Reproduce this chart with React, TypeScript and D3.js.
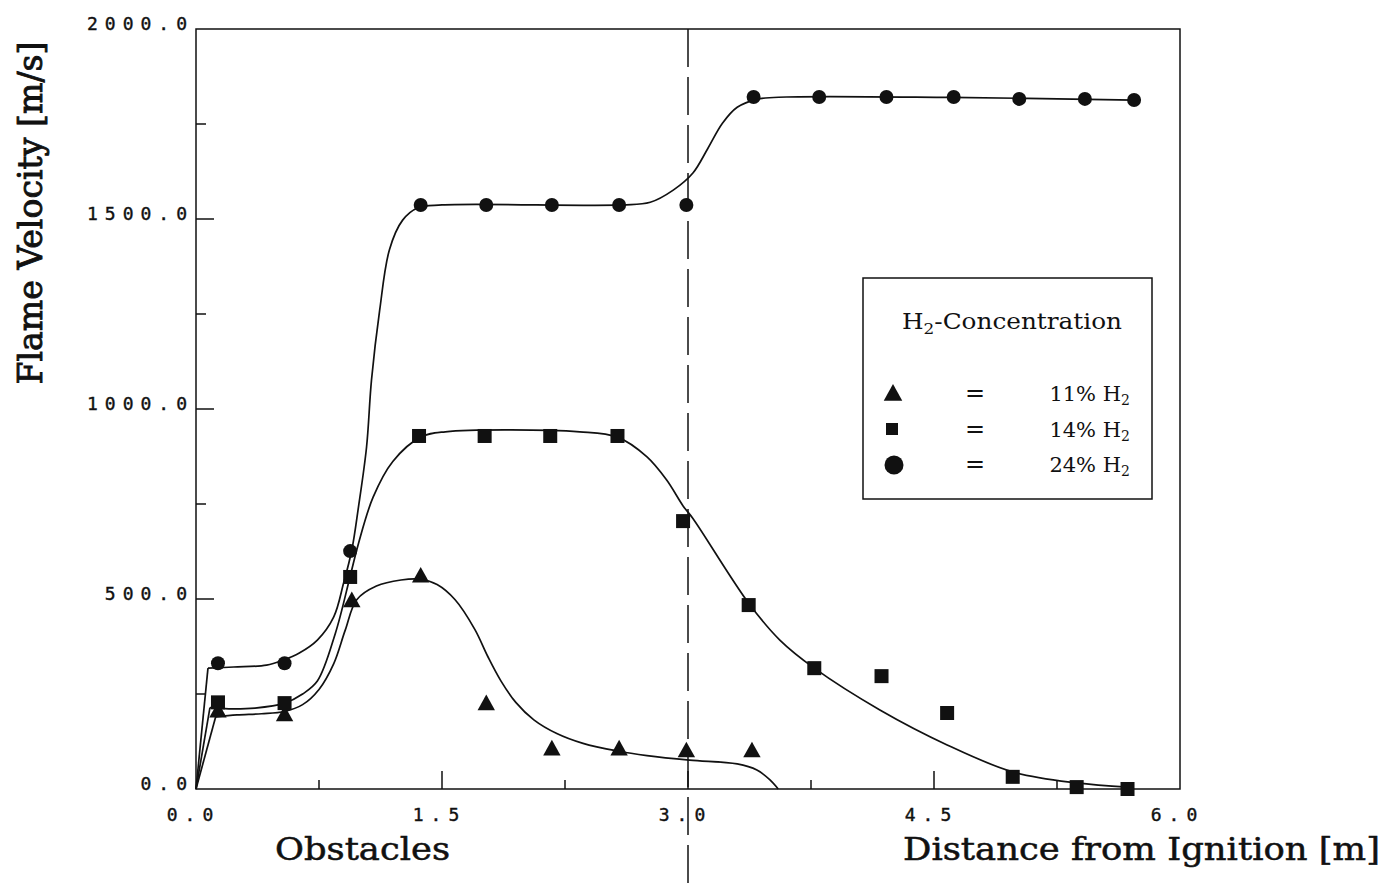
import React from "react";
import * as d3 from "d3";

// ---- data ----
const xTickMajor = [0, 1.5, 3.0, 4.5, 6.0];
const xTickMinor = [0.75, 2.25, 3.75, 5.25];
const yTickMajor = [0, 500, 1000, 1500, 2000];
const yTickMinor = [250, 750, 1250, 1750];
const xTickLabels = ["0.0", "1.5", "3.0", "4.5", "6.0"];
const yTickLabels = ["0.0", "500.0", "1000.0", "1500.0", "2000.0"];

// measured points (markers)
const tri11X = [0.134, 0.54, 0.95, 1.37, 1.77, 2.17, 2.58, 2.99, 3.39];
const tri11Y = [205, 195, 495, 560, 224, 105, 105, 100, 100];

const sq14X = [0.134, 0.54, 0.94, 1.36, 1.76, 2.16, 2.57, 2.97, 3.37, 3.77, 4.18, 4.58, 4.98, 5.37, 5.68];
const sq14Y = [228, 226, 558, 929, 929, 929, 929, 705, 484, 318, 297, 200, 32, 5, 0];

const circ24X = [0.134, 0.54, 0.94, 1.37, 1.77, 2.17, 2.58, 2.99, 3.40, 3.80, 4.21, 4.62, 5.02, 5.42, 5.72];
const circ24Y = [331, 331, 626, 1537, 1537, 1537, 1537, 1537, 1821, 1821, 1821, 1821, 1816, 1816, 1813];

// fitted curves; first segment from the origin is straight
const curve24: [number, number][] = [
  [0, 0], [0.073, 318], [0.23, 321], [0.43, 326], [0.53, 339], [0.63, 358], [0.74, 392],
  [0.84, 453], [0.9, 542], [0.95, 629], [0.99, 740], [1.04, 900], [1.07, 1076], [1.12, 1260],
  [1.18, 1420], [1.26, 1497], [1.35, 1529], [1.5, 1537], [2.6, 1537], [2.77, 1544],
  [2.91, 1576], [3.03, 1621], [3.12, 1685], [3.21, 1752], [3.3, 1794], [3.42, 1815],
  [3.6, 1821], [4.6, 1820], [5.72, 1813],
];
const curve14: [number, number][] = [
  [0, 0], [0.085, 214], [0.2, 211], [0.36, 213], [0.54, 226], [0.65, 250], [0.74, 284],
  [0.85, 410], [0.94, 560], [0.99, 645], [1.08, 768], [1.2, 862], [1.37, 926], [1.52, 940],
  [2.34, 940], [2.57, 926], [2.75, 874], [2.87, 813], [2.97, 745], [3.03, 712], [3.37, 489],
  [3.56, 392], [3.77, 318], [4.17, 208], [4.58, 116], [4.98, 45], [5.37, 16], [5.68, 5],
];
const curve11: [number, number][] = [
  [0, 0], [0.12, 190], [0.25, 195], [0.4, 198], [0.54, 204], [0.65, 222], [0.75, 262],
  [0.84, 330], [0.91, 418], [0.98, 498], [1.1, 534], [1.25, 550], [1.37, 552], [1.47, 538],
  [1.58, 498], [1.7, 420], [1.78, 348], [1.86, 284], [1.95, 228], [2.06, 182], [2.2, 146],
  [2.36, 120], [2.57, 100], [2.75, 88], [3.01, 76], [3.3, 66], [3.42, 50], [3.5, 24], [3.55, 0],
];

const legendLabels = ["11%", "14%", "24%"];
const dashedX = 3.0;

export default function App() {
  const W = 1390, H = 886;
  const x = d3.scaleLinear().domain([0, 6]).range([196, 1180]);
  const y = d3.scaleLinear().domain([0, 2000]).range([789, 29]);
  const smooth = d3
    .line<[number, number]>()
    .x((d) => x(d[0]))
    .y((d) => y(d[1]))
    .curve(d3.curveCatmullRom.alpha(0.5));
  const straight = d3
    .line<[number, number]>()
    .x((d) => x(d[0]))
    .y((d) => y(d[1]));

  const monoFont = "'DejaVu Sans Mono', monospace";
  const serif = "'DejaVu Serif', serif";
  const ls = 7;

  const tri = (cx: number, cy: number, s: number) =>
    `M${cx},${cy - s * 0.62} L${cx + s * 0.58},${cy + s * 0.42} L${cx - s * 0.58},${cy + s * 0.42} Z`;

  return (
    <svg
      width={W}
      height={H}
      style={{ position: "absolute", left: 0, top: 0, background: "#fff" }}
    >
      <rect x={0} y={0} width={W} height={H} fill="#fff" />
      {/* frame */}
      <rect
        x={x(0)}
        y={y(2000)}
        width={x(6) - x(0)}
        height={y(0) - y(2000)}
        fill="none"
        stroke="#111"
        strokeWidth={1.5}
      />
      {/* ticks */}
      {xTickMajor.slice(1, -1).map((t) => (
        <line key={"xm" + t} x1={x(t)} x2={x(t)} y1={y(0)} y2={y(0) - 18} stroke="#111" strokeWidth={1.5} />
      ))}
      {xTickMinor.map((t) => (
        <line key={"xn" + t} x1={x(t)} x2={x(t)} y1={y(0)} y2={y(0) - 9} stroke="#111" strokeWidth={1.5} />
      ))}
      {yTickMajor.slice(1, -1).map((t) => (
        <line key={"ym" + t} x1={x(0)} x2={x(0) + 18} y1={y(t)} y2={y(t)} stroke="#111" strokeWidth={1.5} />
      ))}
      {yTickMinor.map((t) => (
        <line key={"yn" + t} x1={x(0)} x2={x(0) + 10} y1={y(t)} y2={y(t)} stroke="#111" strokeWidth={1.5} />
      ))}
      {/* tick labels */}
      {yTickMajor.map((t, i) => (
        <text
          key={"yl" + t}
          x={x(0) - 9 + ls}
          y={y(t) + 1}
          textAnchor="end"
          fontFamily={monoFont}
          fontSize={18}
          letterSpacing={ls}
          stroke="#111"
          strokeWidth={0.4}
          fill="#111"
        >
          {yTickLabels[i]}
        </text>
      ))}
      {xTickMajor.map((t, i) => (
        <text
          key={"xl" + t}
          x={x(t) - 6 + ls / 2}
          y={821}
          textAnchor="middle"
          fontFamily={monoFont}
          fontSize={18}
          letterSpacing={ls}
          stroke="#111"
          strokeWidth={0.4}
          fill="#111"
        >
          {xTickLabels[i]}
        </text>
      ))}
      {/* dashed vertical line */}
      <line
        x1={x(dashedX)}
        x2={x(dashedX)}
        y1={y(2000)}
        y2={H}
        stroke="#111"
        strokeWidth={1.5}
        strokeDasharray="38 10"
      />
      {/* curves: straight rise from origin, then smooth fit */}
      {[curve11, curve14, curve24].map((c, i) => (
        <g key={"c" + i}>
          <path d={straight(c.slice(0, 2)) || ""} fill="none" stroke="#111" strokeWidth={1.7} />
          <path d={smooth(c.slice(1)) || ""} fill="none" stroke="#111" strokeWidth={1.7} />
        </g>
      ))}
      {/* markers */}
      {tri11X.map((v, i) => (
        <path key={"t" + i} d={tri(x(v), y(tri11Y[i]), 15)} fill="#111" />
      ))}
      {sq14X.map((v, i) => (
        <rect key={"s" + i} x={x(v) - 7} y={y(sq14Y[i]) - 7} width={14} height={14} fill="#111" />
      ))}
      {circ24X.map((v, i) => (
        <circle key={"o" + i} cx={x(v)} cy={y(circ24Y[i])} r={7} fill="#111" />
      ))}
      {/* axis titles */}
      <text
        transform="translate(42,213) rotate(-90)"
        textAnchor="middle"
        fontFamily={serif}
        fontSize={33}
        textLength={343}
        lengthAdjust="spacingAndGlyphs"
        stroke="#111"
        strokeWidth={0.9}
        fill="#111"
      >
        Flame Velocity [m/s]
      </text>
      <text
        x={275}
        y={860}
        fontFamily={serif}
        fontSize={31}
        textLength={175}
        lengthAdjust="spacingAndGlyphs"
        stroke="#111"
        strokeWidth={0.5}
        fill="#111"
      >
        Obstacles
      </text>
      <text
        x={903}
        y={860}
        fontFamily={serif}
        fontSize={31}
        textLength={477}
        lengthAdjust="spacingAndGlyphs"
        stroke="#111"
        strokeWidth={0.5}
        fill="#111"
      >
        Distance from Ignition [m]
      </text>
      {/* legend */}
      <g>
        <rect x={863} y={278} width={289} height={221} fill="#fff" stroke="#111" strokeWidth={1.5} />
        <text
          x={902}
          y={329}
          fontFamily={serif}
          fontSize={22}
          textLength={220}
          lengthAdjust="spacingAndGlyphs"
          fill="#111"
        >
          H<tspan fontSize={15} dy={5}>2</tspan>
          <tspan dy={-5}>-Concentration</tspan>
        </text>
        <path d={tri(893, 394, 16)} fill="#111" />
        <rect x={886} y={423} width={12} height={12} fill="#111" />
        <circle cx={894} cy={465} r={9.5} fill="#111" />
        {legendLabels.map((lab, i) => {
          const yy = 401 + i * 35.5;
          return (
            <g key={"lg" + i}>
              <text x={975} y={yy} textAnchor="middle" fontFamily={serif} fontSize={24} fill="#111">
                =
              </text>
              <text x={1130} y={yy} textAnchor="end" fontFamily={serif} fontSize={21} fill="#111">
                {lab} H<tspan fontSize={14} dy={4}>2</tspan>
              </text>
            </g>
          );
        })}
      </g>
    </svg>
  );
}
